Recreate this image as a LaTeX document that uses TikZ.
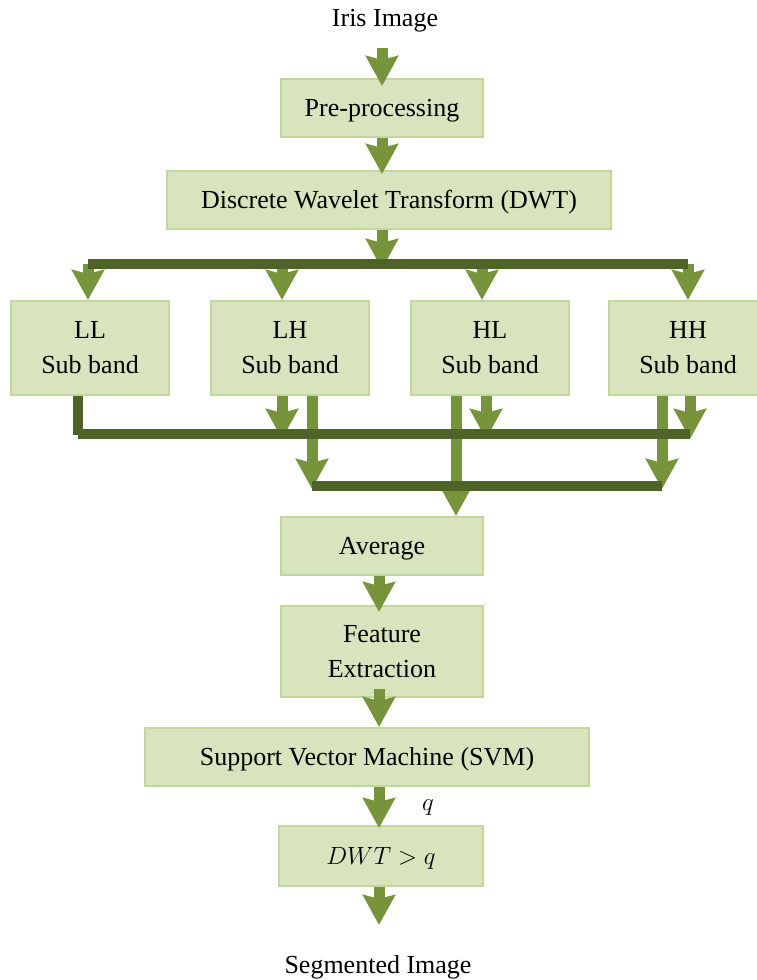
\documentclass[tikz,border=0pt]{standalone}
\usepackage{fontspec}
\setmainfont{Liberation Serif}
\usetikzlibrary{arrows.meta}
\definecolor{boxfill}{HTML}{D7E4BD}
\definecolor{boxline}{HTML}{C3D69B}
\definecolor{arrgreen}{HTML}{77933C}
\definecolor{bardark}{HTML}{4F6228}
\begin{document}
\begin{tikzpicture}[x=1pt,y=-1pt,
  font=\fontsize{26}{35}\selectfont,
  box/.style={draw=boxline, fill=boxfill, line width=2pt, inner sep=0pt, align=center},
  one/.style={text height=20pt, text depth=3pt},
  flow/.style={draw=arrgreen, line width=11pt,
    -{Stealth[length=30pt,width=32pt,inset=4pt]}},
  bar/.style={draw=bardark, line width=10.5pt, line cap=butt},
  lbl/.style={inner sep=0pt, text height=20pt, text depth=3pt}]
\useasboundingbox (0,0) rectangle (756,980);

% texts
\node[lbl] (iris) at (385,18) {Iris Image};
\node[lbl] (seg) at (378,965) {Segmented Image};

% boxes
\node[box, one, minimum width=202pt, minimum height=58pt] (pre) at (382,108) {Pre-processing};
\node[box, one, minimum width=444pt, minimum height=58pt] (dwt) at (389,200) {Discrete Wavelet Transform (DWT)};
\node[box, minimum width=158pt, minimum height=94pt] (ll) at (90,348) {LL\\Sub band};
\node[box, minimum width=158pt, minimum height=94pt] (lh) at (290,348) {LH\\Sub band};
\node[box, minimum width=158pt, minimum height=94pt] (hl) at (490,348) {HL\\Sub band};
\node[box, minimum width=158pt, minimum height=94pt] (hh) at (688,348) {HH\\Sub band};
\node[box, one, minimum width=202pt, minimum height=58pt] (avg) at (382,546) {Average};
\node[box, minimum width=202pt, minimum height=91pt] (fe) at (382,651.5) {Feature\\Extraction};
\node[box, one, minimum width=444pt, minimum height=58pt] (svm) at (367,757) {Support Vector Machine (SVM)};
\node[box, one, minimum width=204pt, minimum height=60pt] (thr) at (381,856) {$DWT > q$};
\node[lbl] (q) at (428,802) {$q$};

% coordinates for the bus bars
\coordinate (b1l) at (88,264);
\coordinate (b1r) at (688,264);
\coordinate (b2l) at (78,434);
\coordinate (b2r) at (690,434);
\coordinate (b3l) at (312,486);
\coordinate (b3r) at (662,486);
\coordinate (a0) at (382,48);

% main flow arrows
\draw[flow] (a0) -- ([yshift=-8pt]pre.north -| a0);
\draw[flow] (pre.south -| a0) -- ([yshift=-4pt]dwt.north -| a0);
\draw[flow] (dwt.south -| a0) -- ([yshift=-5pt]b1l -| a0);

% branches to sub bands
\draw[flow] (b1l) -- (b1l |- ll.north);
\draw[flow] (b1l -| 282,0) -- (lh.north -| 282,0);
\draw[flow] (b1l -| 482,0) -- (hl.north -| 482,0);
\draw[flow] (b1r) -- (b1r |- hh.north);

% from sub bands down
\draw[flow] (lh.south -| 282,0) -- ([yshift=-5pt]b2l -| 282,0);
\draw[flow] (lh.south -| b3l) -- ([yshift=-3pt]b3l);
\draw[flow] (hl.south -| 456,0) -- (avg.north -| 456,0);
\draw[flow] (hl.south -| 486,0) -- ([yshift=-5pt]b2l -| 486,0);
\draw[flow] (hh.south -| b3r) -- ([yshift=-3pt]b3r);
\draw[flow] (hh.south -| b2r) -- ([yshift=-5pt]b2r);

% dark bus bars
\draw[bar] (b1l) -- (b1r);
\draw[bar] (ll.south -| b2l) -- ([yshift=-0.5pt]b2l);
\draw[bar] (b2l) -- (b2r);
\draw[bar] (b3l) -- (b3r);

% lower flow
\coordinate (a1) at (379,0);
\draw[flow] (avg.south -| a1) -- ([yshift=-7pt]fe.north -| a1);
\draw[flow] ([yshift=9pt]fe.south -| a1) -- (svm.north -| a1);
\draw[flow] (svm.south -| a1) -- ([yshift=-3pt]thr.north -| a1);
\draw[flow] (thr.south -| a1) -- (379,925);
\end{tikzpicture}
\end{document}
